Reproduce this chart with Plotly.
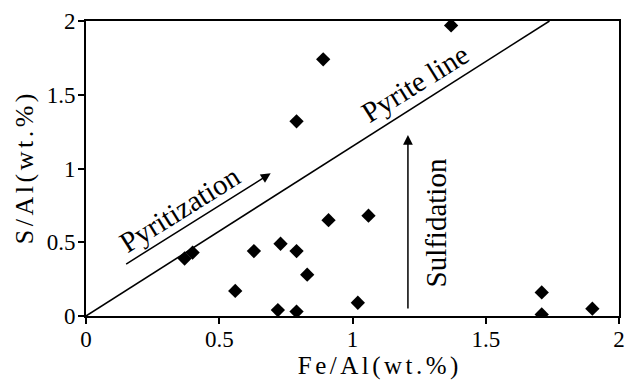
import plotly.graph_objects as go

# Sample ratios (wt.%)
fe_al = [0.37, 0.40, 0.56, 0.63, 0.73, 0.79, 0.83, 0.72, 0.79,
         0.91, 1.06, 1.02, 1.71, 1.71, 1.90, 0.79, 0.89, 1.37]
s_al = [0.39, 0.43, 0.17, 0.44, 0.49, 0.44, 0.28, 0.04, 0.03,
        0.65, 0.68, 0.09, 0.16, 0.01, 0.05, 1.32, 1.74, 1.97]

# Pyrite line: S/Fe mass ratio of FeS2
pyrite_ratio = 1.15
pyrite_x = [0, 2 / pyrite_ratio]
pyrite_y = [0, 2]

tick_vals = [0, 0.5, 1, 1.5, 2]
tick_text = ["0", "0.5", "1", "1.5", "2"]

FONT = "Liberation Serif"

fig = go.Figure()
fig.add_trace(go.Scatter(x=pyrite_x, y=pyrite_y, mode="lines",
                         line=dict(color="black", width=1.6),
                         hoverinfo="skip", showlegend=False))
fig.add_trace(go.Scatter(x=fe_al, y=s_al, mode="markers",
                         marker=dict(symbol="diamond", size=11, color="black"),
                         showlegend=False))

axis_common = dict(
    range=[0, 2], tickvals=tick_vals, ticktext=tick_text,
    showgrid=False, zeroline=False, showline=True, mirror=True,
    linecolor="black", linewidth=2, ticks="outside", ticklen=6,
    tickwidth=1.5, tickcolor="black",
    tickfont=dict(family=FONT, size=23, color="black"),
)
fig.update_xaxes(ticklabelstandoff=-5, **axis_common)
fig.update_yaxes(ticklabelstandoff=-2, **axis_common)

annotations = [
    # axis titles
    dict(text="Fe/Al(wt.%)", xref="paper", yref="paper", x=0.551, y=-0.168,
         xanchor="center", yanchor="middle", showarrow=False,
         font=dict(family=FONT, size=25, color="black")),
    dict(text="S/Al(wt.%)", xref="paper", yref="paper", x=-0.117, y=0.505,
         xanchor="center", yanchor="middle", showarrow=False, textangle=-90,
         font=dict(family=FONT, size=26, color="black")),
    # labels inside the plot
    dict(text="Pyrite line", x=1.236, y=1.58, showarrow=False, textangle=-32,
         font=dict(family=FONT, size=29, color="black")),
    dict(text="Pyritization", x=0.353, y=0.725, showarrow=False, textangle=-32,
         font=dict(family=FONT, size=29, color="black")),
    dict(text="Sulfidation", x=1.317, y=0.634, showarrow=False, textangle=-90,
         font=dict(family=FONT, size=29, color="black")),
    # trend arrows
    dict(text="", x=0.693, y=0.967, ax=0.145, ay=0.346, axref="x", ayref="y",
         showarrow=True, arrowhead=2, arrowsize=1.3, arrowwidth=1.5,
         arrowcolor="black"),
    dict(text="", x=1.208, y=1.227, ax=1.208, ay=0.04, axref="x", ayref="y",
         showarrow=True, arrowhead=2, arrowsize=1.3, arrowwidth=1.5,
         arrowcolor="black"),
]

fig.update_layout(
    width=630, height=381,
    margin=dict(l=86, r=5, t=21, b=65),
    plot_bgcolor="white", paper_bgcolor="white",
    annotations=annotations,
)

# Widen the letter spacing of the two axis titles
spacing_js = """
var gd = document.getElementById('{plot_id}');
gd.querySelectorAll('text.annotation-text').forEach(function (t) {
  if (t.textContent.indexOf('wt.') >= 0) { t.style.letterSpacing = '3.5px'; }
});
"""

fig.write_html("out.html", post_script=spacing_js)
